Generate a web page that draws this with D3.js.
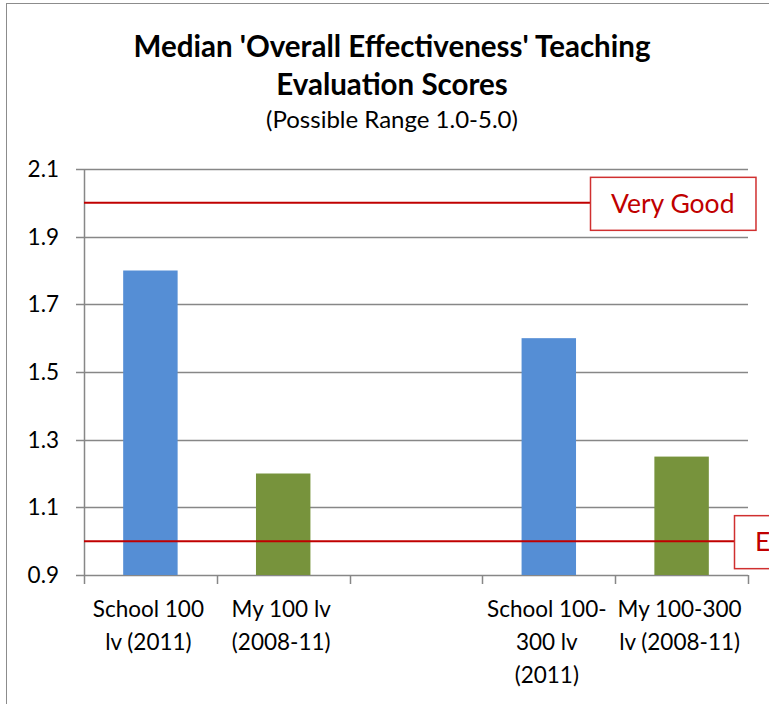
<!DOCTYPE html>
<html><head><meta charset="utf-8">
<script src="https://cdn.jsdelivr.net/npm/d3@7"></script>
<style>body{margin:0;background:#fff;}svg{display:block;font-family:Lato,"Open Sans",sans-serif;}</style>
</head><body>
<script>
const categories = ["School 100 lv (2011)", "My 100 lv (2008-11)", "", "School 100-300 lv (2011)", "My 100-300 lv (2008-11)"];
const categoryLines = [["School 100", "lv (2011)"], ["My 100 lv", "(2008-11)"], [], ["School 100-", "300 lv", "(2011)"], ["My 100-300", "lv (2008-11)"]];
const schoolValues = [1.8, null, null, 1.6, null];
const myValues = [null, 1.2, null, null, 1.25];
const yTicks = [0.9, 1.1, 1.3, 1.5, 1.7, 1.9, 2.1];
const refLines = [{label: "Very Good", value: 2.0}, {label: "Excellent", value: 1.0}];
const titleLines = ["Median 'Overall Effectiveness' Teaching", "Evaluation Scores"];
const subtitle = "(Possible Range 1.0-5.0)";

const W = 769, H = 704;
const svg = d3.select("body").append("svg").attr("width", W).attr("height", H);
const red = "#C00000", grid = "#878787";

// outer border
svg.append("rect").attr("x", 6.5).attr("y", 3.5).attr("width", 900).attr("height", 900)
  .attr("fill", "none").attr("stroke", "#8c8c8c").attr("stroke-width", 1);

// titles
svg.append("text").attr("x", 392).attr("y", 57).attr("text-anchor", "middle")
  .attr("font-size", 29.5).attr("font-weight", "bold").text(titleLines[0]);
svg.append("text").attr("x", 392).attr("y", 95).attr("text-anchor", "middle")
  .attr("font-size", 29.5).attr("font-weight", "bold").text(titleLines[1]);
svg.append("text").attr("x", 392).attr("y", 128).attr("text-anchor", "middle")
  .attr("font-size", 24).text(subtitle);

const x = d3.scaleBand().domain(d3.range(categories.length)).range([84, 748]).paddingInner(0).paddingOuter(0);
const y = d3.scaleLinear().domain([0.9, 2.1]).range([575, 169]);

// gridlines
svg.append("g").selectAll("line").data(yTicks).join("line")
  .attr("x1", 76).attr("x2", 748)
  .attr("y1", d => Math.round(y(d)) + 0.5).attr("y2", d => Math.round(y(d)) + 0.5)
  .attr("stroke", grid).attr("stroke-width", 1.5);

// y tick labels
svg.append("g").selectAll("text").data(yTicks).join("text")
  .attr("x", 59).attr("y", d => y(d) + 8).attr("text-anchor", "end")
  .attr("font-size", 22.5).text(d => d3.format(".1f")(d));

// y axis line
svg.append("line").attr("x1", 84.5).attr("x2", 84.5).attr("y1", 169).attr("y2", 576)
  .attr("stroke", grid).attr("stroke-width", 1.5);

// x ticks
const bounds = d3.range(categories.length + 1).map(i => i < categories.length ? x(i) : x.range()[1]);
svg.append("g").selectAll("line").data(bounds).join("line")
  .attr("x1", d => Math.round(d) + 0.5).attr("x2", d => Math.round(d) + 0.5)
  .attr("y1", 575).attr("y2", 584).attr("stroke", grid).attr("stroke-width", 1.5);

// bars
const barW = x.bandwidth() * 0.41;
function drawBars(vals, color) {
  svg.append("g").selectAll("rect").data(vals.map((v, i) => ({v, i})).filter(d => d.v != null)).join("rect")
    .attr("x", d => x(d.i) + x.bandwidth() / 2 - barW / 2)
    .attr("width", barW)
    .attr("y", d => y(d.v)).attr("height", d => y(0.9) - y(d.v))
    .attr("fill", color);
}
drawBars(schoolValues, "#558ED5");
drawBars(myValues, "#77933C");

// category labels
categoryLines.forEach((lines, i) => {
  lines.forEach((ln, j) => {
    svg.append("text").attr("x", x(i) + x.bandwidth() / 2 - 2).attr("y", 617 + j * 33)
      .attr("text-anchor", "middle").attr("font-size", 22.5).text(ln);
  });
});

// reference lines with callout boxes
const boxLeft = [590, 734];
refLines.forEach((r, k) => {
  const yy = y(r.value);
  svg.append("line").attr("x1", 84).attr("x2", boxLeft[k]).attr("y1", yy).attr("y2", yy)
    .attr("stroke", red).attr("stroke-width", 2);
  const g = svg.append("g");
  const rect = g.append("rect");
  const t = g.append("text").attr("x", boxLeft[k] + 21).attr("y", yy + 10)
    .attr("font-size", 26.5).attr("fill", red).text(r.label);
  const tw = t.node().getComputedTextLength();
  rect.attr("x", boxLeft[k] + 0.5).attr("y", yy - 25.5)
    .attr("width", tw + 42).attr("height", 53)
    .attr("fill", "#fff").attr("stroke", "#D03030").attr("stroke-width", 1.5);
});
</script>
</body></html>
